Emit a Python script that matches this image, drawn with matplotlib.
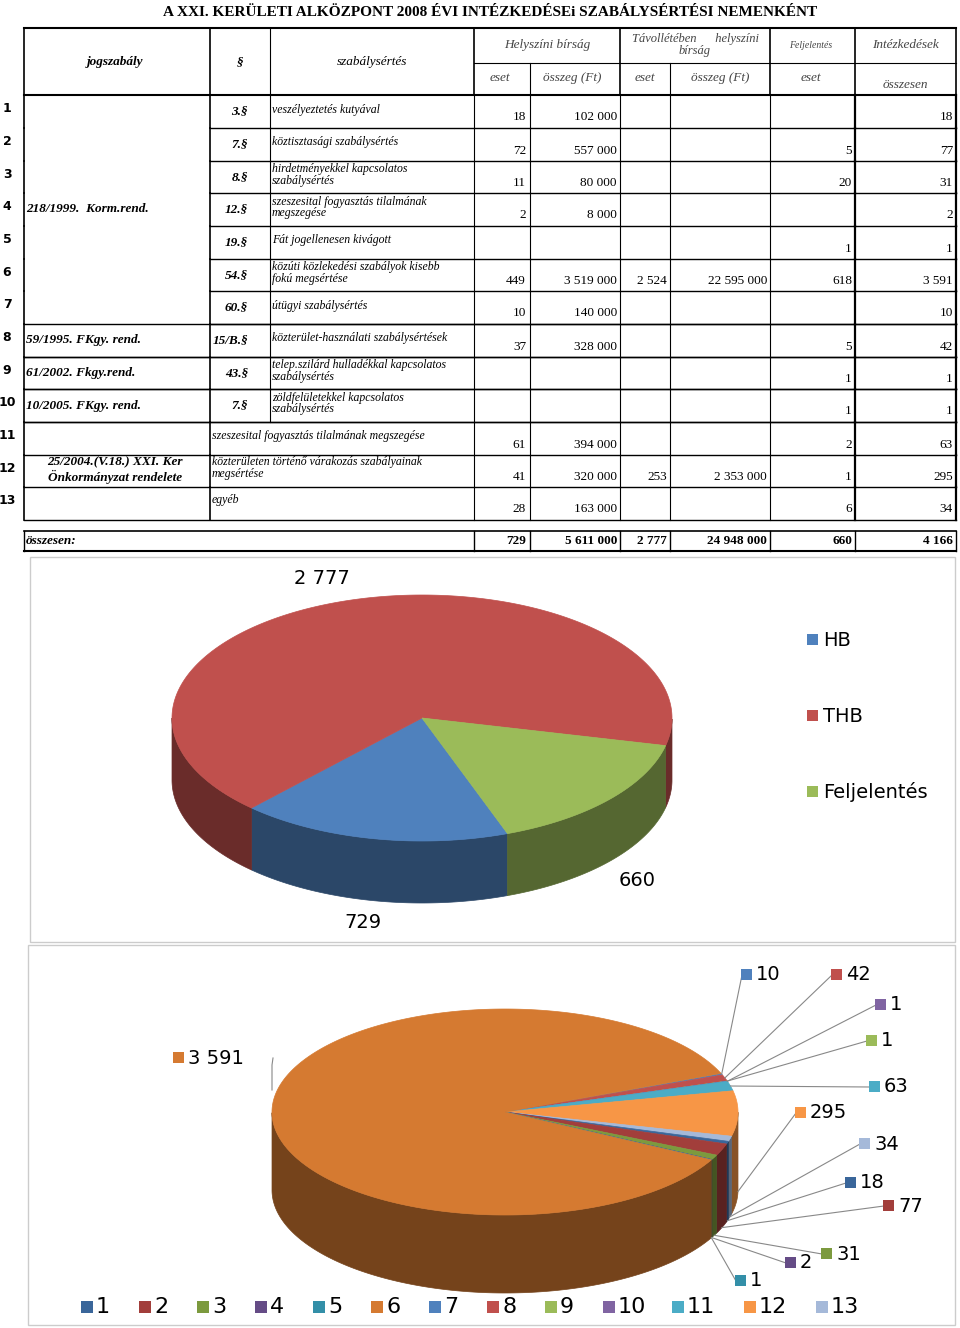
import matplotlib
matplotlib.use("Agg")
import matplotlib.pyplot as plt
import numpy as np
from matplotlib.patches import Polygon, Rectangle

# ---------------- data ----------------
row_no = list(range(1, 14))
paragraphs = ["3.§", "7.§", "8.§", "12.§", "19.§", "54.§", "60.§", "15/B.§", "43.§", "7.§", "", "", ""]
descriptions = ["veszélyeztetés kutyával", "köztisztasági szabálysértés",
                "hirdetményekkel kapcsolatos\nszabálysértés",
                "szeszesital fogyasztás tilalmának\nmegszegése",
                "Fát jogellenesen kivágott",
                "közúti közlekedési szabályok kisebb\nfokú megsértése",
                "útügyi szabálysértés", "közterület-használati szabálysértések",
                "telep.szilárd hulladékkal kapcsolatos\nszabálysértés",
                "zöldfelületekkel kapcsolatos\nszabálysértés",
                "szeszesital fogyasztás tilalmának megszegése",
                "közterületen történő várakozás szabályainak\nmegsértése", "egyéb"]
hb_eset = [18, 72, 11, 2, None, 449, 10, 37, None, None, 61, 41, 28]
hb_osszeg = [102000, 557000, 80000, 8000, None, 3519000, 140000, 328000, None, None, 394000, 320000, 163000]
thb_eset = [None, None, None, None, None, 2524, None, None, None, None, None, 253, None]
thb_osszeg = [None, None, None, None, None, 22595000, None, None, None, None, None, 2353000, None]
feljelentes = [None, 5, 20, None, 1, 618, None, 5, 1, 1, 2, 1, 6]
osszesen = [18, 77, 31, 2, 1, 3591, 10, 42, 1, 1, 63, 295, 34]
totals = [729, 5611000, 2777, 24948000, 660, 4166]

pie1_labels = ["HB", "THB", "Feljelentés"]
pie1_values = [729, 2777, 660]
pie1_colors = ["#4F81BD", "#C0504D", "#9BBB59"]

pie2_colors = ["#3A669A", "#A23E3B", "#7C9A3E", "#654C86", "#338FA8", "#D57A31",
               "#4F81BD", "#C0504D", "#9BBB59", "#8064A2", "#4BACC6", "#F79646", "#A5B9D9"]

def fmt(v):
    return "" if v is None else f"{v:,}".replace(",", " ")

fig = plt.figure(figsize=(9.6, 13.28), dpi=100)
ax = fig.add_axes([0, 0, 1, 1])
ax.set_xlim(0, 960); ax.set_ylim(1328, 0); ax.axis("off")

SER = "Liberation Serif"
ax.text(490, 13, "A XXI. KERÜLETI ALKÖZPONT 2008 ÉVI INTÉZKEDÉSEi SZABÁLYSÉRTÉSI NEMENKÉNT",
        ha="center", va="center", fontsize=11, fontweight="bold", family=SER)

def hl(y, x0, x1, lw=1.0):
    ax.plot([x0, x1], [y, y], color="black", lw=lw)
def vl(x, y0, y1, lw=1.0):
    ax.plot([x, x], [y0, y1], color="black", lw=lw)

# header
hl(28, 24, 956, 1.5); hl(95, 24, 956, 1.5)
hl(63, 474, 956, 0.8)
for x in [24, 210, 474, 620, 770, 855, 956]:
    vl(x, 28, 95, 1.2)
for x in [530, 670]:
    vl(x, 63, 95, 0.8)
vl(270, 28, 95, 0.8)
hdr = dict(family=SER, style="italic", fontsize=9.5, va="center", ha="center")
ax.text(115, 62, "jogszabály", fontweight="bold", **hdr)
ax.text(240, 62, "§", fontweight="bold", **hdr)
ax.text(372, 62, "szabálysértés", **hdr)
ax.text(547, 45, "Helyszíni bírság", color="#444444", **hdr)
ax.text(695, 45, "Távollétében      helyszíni\nbírság", color="#444444", fontsize=9, family=SER, style="italic", ha="center", va="center", linespacing=0.95)
ax.text(811, 46, "Feljelentés", fontsize=7, family=SER, style="italic", ha="center", va="center", color="#444444")
ax.text(905, 45, "Intézkedések", color="#444444", **hdr)
for x, t in [(500, "eset"), (572, "összeg (Ft)"), (645, "eset"), (720, "összeg (Ft)"), (811, "eset")]:
    ax.text(x, 78, t, color="#444444", **hdr)
ax.text(905, 85, "összesen", color="#444444", **hdr)

# body rows
bounds = [95, 128, 161, 193, 226, 259, 291, 324, 357, 389, 422, 455, 487, 520]
for i in range(13):
    y0, y1 = bounds[i], bounds[i + 1]
    yc = (y0 + y1) / 2
    ax.text(7, yc - 3, str(row_no[i]), ha="center", va="center", fontsize=9, fontweight="bold", family="DejaVu Sans")
    if i < 10:
        ax.text(248, yc, paragraphs[i], ha="right", va="center", fontsize=9.5, fontweight="bold", style="italic", family=SER)
        ax.text(272, yc - 2, descriptions[i], ha="left", va="center", fontsize=8.5, style="italic", family=SER, linespacing=0.95)
    else:
        ax.text(212, yc - 3, descriptions[i], ha="left", va="center", fontsize=8.5, style="italic", family=SER, linespacing=0.95)
    vy = yc + 6
    for x, v in [(526, hb_eset[i]), (617, hb_osszeg[i]), (667, thb_eset[i]), (767, thb_osszeg[i]),
                 (852, feljelentes[i]), (953, osszesen[i])]:
        ax.text(x, vy, fmt(v), ha="right", va="center", fontsize=9.5, family=SER)
    # lines
    hl(y1, 210 if i < 7 else 24, 956, 1.0)
    if i in (7, 8, 9, 10):
        hl(y0, 24, 956, 1.0)
    for x in [474, 530, 620, 670, 770, 855, 956]:
        vl(x, y0, y1, 0.8 if x not in (855, 956) else 1.6)
    vl(24, y0, y1, 1.2); vl(210, y0, y1, 1.2)
    if i < 10:
        vl(270, y0, y1, 0.8)

col1 = dict(family=SER, style="italic", fontweight="bold", fontsize=9.5, va="center")
ax.text(26, 209, "218/1999.  Korm.rend.", ha="left", **col1)
ax.text(26, 340, "59/1995. FKgy. rend.", ha="left", **col1)
ax.text(26, 373, "61/2002. Fkgy.rend.", ha="left", **col1)
ax.text(26, 406, "10/2005. FKgy. rend.", ha="left", **col1)
ax.text(115, 470, "25/2004.(V.18.) XXI. Ker\nÖnkormányzat rendelete", ha="center", **col1)

# totals
hl(531, 24, 956, 1.2); hl(551, 24, 956, 1.5)
for x in [24, 474, 530, 620, 670, 770, 855, 956]:
    vl(x, 531, 551, 1.0)
ax.text(26, 541, "összesen:", ha="left", **col1)
for x, v in zip([526, 617, 667, 767, 852, 953], totals):
    ax.text(x, 541, fmt(v), ha="right", va="center", fontsize=9.5, fontweight="bold", family=SER)

# ---------------- 3D pies ----------------
def darker(c, f=0.55):
    r, g, b = matplotlib.colors.to_rgb(c)
    return (r * f, g * f, b * f)

def pie3d(values, colors, cx, cy, rx, ry, depth, start):
    total = float(sum(values))
    cum = start
    mids = []
    for v, c in zip(values, colors):
        span = 360.0 * v / total
        t = np.radians(np.linspace(cum, cum - span, max(3, int(span * 2) + 2)))
        xs = cx + rx * np.cos(t); ys = cy - ry * np.sin(t)
        front = np.sin(t) <= 0
        # side walls
        idx = np.where(front)[0]
        if len(idx) > 1:
            runs = np.split(idx, np.where(np.diff(idx) != 1)[0] + 1)
            for r in runs:
                if len(r) < 2:
                    continue
                px = np.concatenate([xs[r], xs[r][::-1]])
                py = np.concatenate([ys[r], ys[r][::-1] + depth])
                ax.add_patch(Polygon(np.column_stack([px, py]), closed=True, fc=darker(c), ec=darker(c), lw=0.5, zorder=3))
        px = np.concatenate([[cx], xs]); py = np.concatenate([[cy], ys])
        ax.add_patch(Polygon(np.column_stack([px, py]), closed=True, fc=c, ec=c, lw=0.5, zorder=4))
        mids.append(cum - span / 2)
        cum -= span
    return mids

# pie 1
ax.add_patch(Rectangle((30, 557), 925, 385, fill=False, ec="#cccccc", lw=1))
pie3d(pie1_values, pie1_colors, 422, 718, 250, 123, 62, -70)
for (x, y), v in zip([(363, 922), (322, 578), (637, 880)], pie1_values):
    ax.text(x, y, fmt(v), ha="center", va="center", fontsize=14, family="DejaVu Sans")
for i, (lab, c) in enumerate(zip(pie1_labels, pie1_colors)):
    y = 640 + 76 * i
    ax.add_patch(Rectangle((807, y - 6), 11, 11, fc=c, ec="none"))
    ax.text(823, y, lab, ha="left", va="center", fontsize=14, family="DejaVu Sans")

# pie 2
ax.add_patch(Rectangle((28, 945), 927, 380, fill=False, ec="#cccccc", lw=1))
order = [6, 7, 8, 9, 10, 11, 12, 0, 1, 2, 3, 4, 5]
cx2, cy2, rx2, ry2, d2 = 505, 1112, 233, 103, 78
mids = pie3d([osszesen[k] for k in order], [pie2_colors[k] for k in order], cx2, cy2, rx2, ry2, d2, 22)
mid_of = {k: m for k, m in zip(order, mids)}
lab_pos = {6: (746, 975), 7: (836, 975), 9: (880, 1005), 8: (871, 1041), 10: (874, 1087),
           11: (800, 1113), 12: (864, 1144), 0: (850, 1183), 1: (888, 1206), 2: (826, 1254),
           3: (790, 1263), 4: (740, 1281), 5: (178, 1058)}
for k, (sx, sy) in lab_pos.items():
    m = np.radians(mid_of[k])
    tx = cx2 + rx2 * np.cos(m); ty = cy2 - ry2 * np.sin(m)
    if np.sin(m) < 0:
        ty += d2
    if k != 5:
        ax.plot([sx - 4, tx], [sy, ty], color="#888888", lw=0.8, zorder=5)
    else:
        ax.plot([sx + 95, 272, 272], [sy, 1065, 1090], color="#888888", lw=0.8, zorder=5)
    ax.add_patch(Rectangle((sx - 5, sy - 6), 11, 11, fc=pie2_colors[k], ec="none", zorder=6))
    ax.text(sx + 10, sy, fmt(osszesen[k]), ha="left", va="center", fontsize=14, family="DejaVu Sans", zorder=6)

leg_x = [87, 145, 203, 261, 319, 377, 435, 493, 551, 609, 678, 750, 822]
for k, x in enumerate(leg_x):
    ax.add_patch(Rectangle((x - 6, 1301), 12, 12, fc=pie2_colors[k], ec="none"))
    ax.text(x + 9, 1307, str(row_no[k]), ha="left", va="center", fontsize=16, family="DejaVu Sans")

fig.savefig("out.png", dpi=100)
